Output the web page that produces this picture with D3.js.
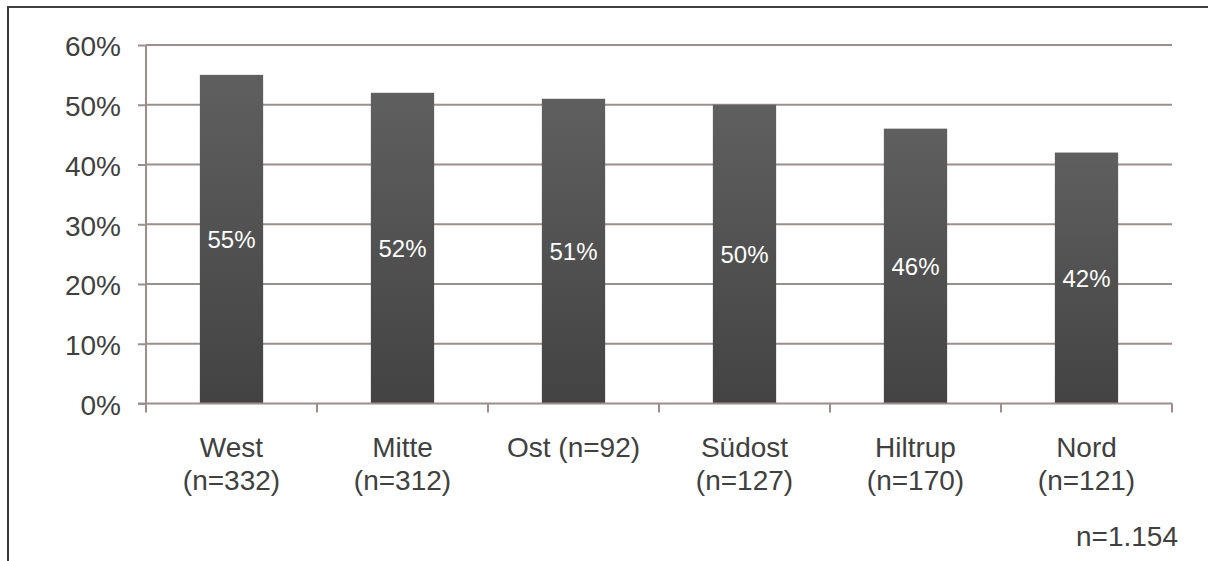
<!DOCTYPE html>
<html>
<head>
<meta charset="utf-8">
<script src="https://cdn.jsdelivr.net/npm/d3@7/dist/d3.min.js"></script>
<style>
  html, body { margin: 0; padding: 0; background: #fff; }
  svg { display: block; }
  text { font-family: "Liberation Sans", Arial, sans-serif; }
</style>
</head>
<body>
<svg id="chart" width="1208" height="561"></svg>
<script>
// Districts and their share (in %)
const districts = ["West", "Mitte", "Ost", "Südost", "Hiltrup", "Nord"];
const shares = [55, 52, 51, 50, 46, 42];
// Category tick labels, one entry per line
const categoryLabels = [
  ["West", "(n=332)"],
  ["Mitte", "(n=312)"],
  ["Ost (n=92)"],
  ["Südost", "(n=127)"],
  ["Hiltrup", "(n=170)"],
  ["Nord", "(n=121)"]
];
const yTicks = [0, 10, 20, 30, 40, 50, 60];
const totalNote = "n=1.154";

const svg = d3.select("#chart");
const textColor = "#404040";
const axisColor = "#9b8e8c";

// frame lines (left and top)
svg.append("line").attr("x1", 8).attr("x2", 8).attr("y1", 7).attr("y2", 561)
  .attr("stroke", "#383838").attr("stroke-width", 2);
svg.append("line").attr("x1", 7).attr("x2", 1208).attr("y1", 7).attr("y2", 7)
  .attr("stroke", "#404040").attr("stroke-width", 2);

const plot = { left: 146, right: 1172, top: 45, bottom: 403.5 };

const x = d3.scaleBand().domain(districts).range([plot.left, plot.right]).padding(0);
const y = d3.scaleLinear().domain([0, 60]).range([plot.bottom, plot.top]);

// gradient fill for the bars
const defs = svg.append("defs");
const grad = defs.append("linearGradient").attr("id", "barGrad")
  .attr("x1", 0).attr("y1", 0).attr("x2", 0).attr("y2", 1);
grad.append("stop").attr("offset", "0%").attr("stop-color", "#5f5f5f");
grad.append("stop").attr("offset", "100%").attr("stop-color", "#434343");

// horizontal gridlines
svg.append("g").selectAll("line").data(yTicks.filter(d => d > 0)).join("line")
  .attr("x1", plot.left).attr("x2", plot.right)
  .attr("y1", d => y(d)).attr("y2", d => y(d))
  .attr("stroke", axisColor).attr("stroke-width", 2);

// y axis
const yAxis = d3.axisLeft(y).tickValues(yTicks).tickSize(8).tickPadding(17)
  .tickFormat(d => d + "%");
const yG = svg.append("g").attr("transform", `translate(${plot.left},0)`).call(yAxis);
yG.select(".domain").attr("stroke", axisColor).attr("stroke-width", 2)
  .attr("d", `M0,${plot.top}V${plot.bottom}`);
yG.selectAll(".tick line").attr("stroke", axisColor).attr("stroke-width", 2);
yG.selectAll(".tick text")
  .attr("fill", textColor).attr("font-size", 28).attr("dy", "0.39em")
  .style("font-family", "'Liberation Sans', Arial, sans-serif");

// bars
const barFrac = 0.37;
const barW = x.bandwidth() * barFrac;
svg.append("g").selectAll("rect").data(districts).join("rect")
  .attr("x", (d) => x(d) + (x.bandwidth() - barW) / 2)
  .attr("width", barW)
  .attr("y", (d, i) => y(shares[i]))
  .attr("height", (d, i) => y(0) - y(shares[i]))
  .attr("fill", "url(#barGrad)");

// value labels in the middle of each bar
svg.append("g").selectAll("text").data(districts).join("text")
  .attr("x", d => x(d) + x.bandwidth() / 2)
  .attr("y", (d, i) => (y(shares[i]) + y(0)) / 2)
  .attr("dy", "0.36em")
  .attr("text-anchor", "middle")
  .attr("fill", "#ffffff")
  .attr("font-size", 24)
  .text((d, i) => shares[i] + "%");

// x axis baseline with category-boundary ticks
svg.append("line").attr("x1", plot.left - 8).attr("x2", plot.right)
  .attr("y1", y(0)).attr("y2", y(0))
  .attr("stroke", axisColor).attr("stroke-width", 2);
const boundaries = districts.map(d => x(d)).concat([x(districts[districts.length - 1]) + x.bandwidth()]);
svg.append("g").selectAll("line").data(boundaries).join("line")
  .attr("x1", d => d).attr("x2", d => d)
  .attr("y1", y(0)).attr("y2", y(0) + 9)
  .attr("stroke", axisColor).attr("stroke-width", 2);

// category labels
const catG = svg.append("g").selectAll("text").data(districts).join("text")
  .attr("x", d => x(d) + x.bandwidth() / 2)
  .attr("y", 457)
  .attr("text-anchor", "middle")
  .attr("fill", textColor)
  .attr("font-size", 28);
catG.each(function (d, i) {
  const t = d3.select(this);
  categoryLabels[i].forEach((line, j) => {
    t.append("tspan").attr("x", x(d) + x.bandwidth() / 2)
      .attr("dy", j === 0 ? 0 : 33).text(line);
  });
});

// total sample note
svg.append("text").attr("x", 1178).attr("y", 546)
  .attr("text-anchor", "end").attr("fill", textColor).attr("font-size", 28)
  .text(totalNote);
</script>
</body>
</html>
